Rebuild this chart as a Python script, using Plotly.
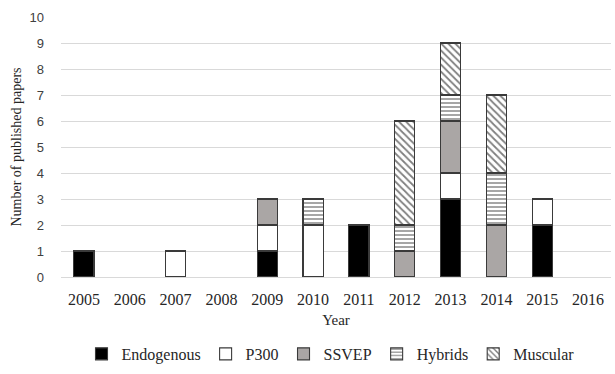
import plotly.graph_objects as go

years = ["2005", "2006", "2007", "2008", "2009", "2010", "2011", "2012", "2013", "2014", "2015", "2016"]
endogenous = [1, 0, 0, 0, 1, 0, 2, 0, 3, 0, 2, 0]
p300 = [0, 0, 1, 0, 1, 2, 0, 0, 1, 0, 1, 0]
ssvep = [0, 0, 0, 0, 1, 0, 0, 1, 2, 2, 0, 0]
hybrids = [0, 0, 0, 0, 0, 1, 0, 1, 1, 2, 0, 0]
muscular = [0, 0, 0, 0, 0, 0, 0, 4, 2, 3, 0, 0]

series = [
    ("Endogenous", endogenous, "#000000", "", 0),
    ("P300", p300, "#ffffff", "", 0),
    ("SSVEP", ssvep, "#aaa6a5", "", 0),
    ("Hybrids", hybrids, "#ffffff", "-", 4),
    ("Muscular", muscular, "#ffffff", "\\", 5),
]

SERIF = "Liberation Serif, Times New Roman, serif"

fig = go.Figure()
for name, vals, color, shape, psize in series:
    yv = [v if v else None for v in vals]
    marker = dict(color=color, line=dict(color="#3a3a3a", width=1.1))
    if shape:
        marker["pattern"] = dict(shape=shape, fgcolor="#000000", bgcolor="#ffffff",
                                 size=psize, solidity=0.35)
    fig.add_trace(go.Bar(x=years, y=yv, name=name, marker=marker))

fig.update_layout(
    barmode="stack",
    bargap=0.56,
    width=615, height=374,
    margin=dict(l=61, r=4, t=17, b=97, autoexpand=False),
    plot_bgcolor="white", paper_bgcolor="white",
    font=dict(family=SERIF, color="#404040", size=14),
    legend=dict(orientation="h", x=0.49, xanchor="center", y=-0.296, yanchor="middle",
                font=dict(family=SERIF, size=16, color="#262626"),
                itemwidth=30, traceorder="normal"),
    xaxis=dict(title=dict(text="Year", standoff=7, font=dict(size=15, family=SERIF, color="#262626")),
               tickfont=dict(family=SERIF, size=16, color="#262626"),
               showline=True, linecolor="#d9d9d9", ticks="", ticklabelstandoff=8),
    yaxis=dict(title=dict(text="Number of published papers", standoff=4,
                          font=dict(size=14, family=SERIF, color="#262626")),
               range=[0, 10], dtick=1,
               tickfont=dict(family="Liberation Sans", size=13, color="#404040"),
               gridcolor="#d9d9d9", zeroline=False, ticks="", ticklabelstandoff=16),
)

fig.write_html("out.html", config={"displayModeBar": False},
               post_script="document.body.style.margin='0';")
